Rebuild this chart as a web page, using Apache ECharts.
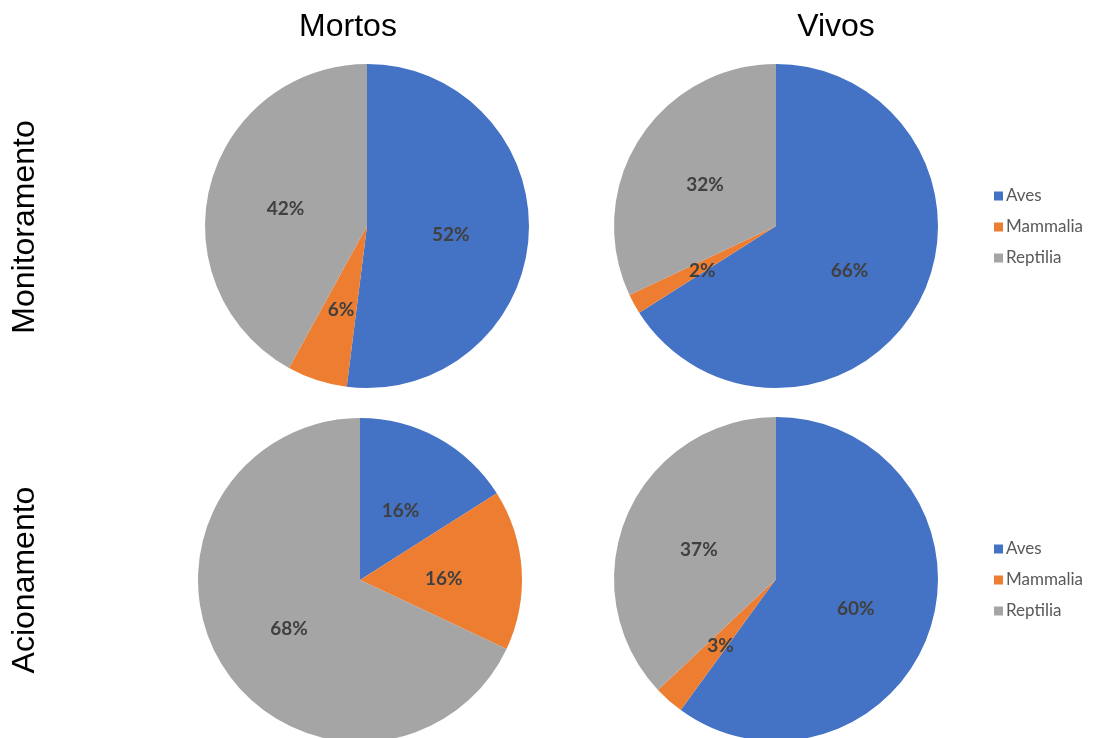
<!DOCTYPE html>
<html>
<head>
<meta charset="utf-8">
<style>
  html, body { margin: 0; padding: 0; background: #ffffff; }
  #chart { width: 1097px; height: 738px; }
</style>
<script src="https://cdn.jsdelivr.net/npm/echarts@6/dist/echarts.min.js"></script>
</head>
<body>
<div id="chart"></div>
<script>
// Taxonomic classes shown in every pie
const classes = ['Aves', 'Mammalia', 'Reptilia'];
const classColors = ['#4472C4', '#ED7D31', '#A5A5A5'];

// Column / row headings
const columnTitles = ['Mortos', 'Vivos'];
const rowTitles = ['Monitoramento', 'Acionamento'];

// Share (%) of each class per panel
const monitoramentoMortos = [52, 6, 42];
const monitoramentoVivos = [66, 2, 32];
const acionamentoMortos = [16, 16, 68];
const acionamentoVivos = [60, 3, 37];

const panels = [
  { values: monitoramentoMortos, center: [367, 226] },
  { values: monitoramentoVivos, center: [776, 226] },
  { values: acionamentoMortos, center: [360, 580] },
  { values: acionamentoVivos, center: [776, 579] }
];

const chart = echarts.init(document.getElementById('chart'));

const series = panels.map(p => ({
  type: 'pie',
  center: p.center,
  radius: 162,
  startAngle: 90,
  clockwise: true,
  avoidLabelOverlap: false,
  silent: true,
  itemStyle: { borderWidth: 0 },
  label: {
    show: true,
    position: 'inside',
    formatter: '{c}%',
    color: '#404040',
    fontFamily: 'Lato',
    fontWeight: 'bold',
    fontSize: 19
  },
  labelLayout: { dy: 4 },
  labelLine: { show: false },
  data: classes.map((name, i) => ({
    name,
    value: p.values[i],
    itemStyle: { color: classColors[i] }
  }))
}));

const legendStyle = {
  orient: 'vertical',
  left: 989,
  icon: 'rect',
  itemWidth: 9,
  itemHeight: 9,
  itemGap: 13,
  selectedMode: false,
  data: classes,
  textStyle: { color: '#595959', fontFamily: 'Lato', fontSize: 17, lineHeight: 18, padding: [0, 0, 0, -2] }
};

const headingFont = { fontFamily: 'Liberation Sans', fontSize: 32, fill: '#000000' };

chart.setOption({
  animation: false,
  legend: [
    Object.assign({ top: 182 }, legendStyle),
    Object.assign({ top: 535 }, legendStyle)
  ],
  graphic: [
    { type: 'text', x: 348, y: 27, style: Object.assign({ text: columnTitles[0], textAlign: 'center', textVerticalAlign: 'middle' }, headingFont) },
    { type: 'text', x: 836, y: 27, style: Object.assign({ text: columnTitles[1], textAlign: 'center', textVerticalAlign: 'middle' }, headingFont) },
    { type: 'text', x: 25, y: 227, rotation: Math.PI / 2, style: Object.assign({ text: rowTitles[0], textAlign: 'center', textVerticalAlign: 'middle' }, headingFont) },
    { type: 'text', x: 25, y: 580, rotation: Math.PI / 2, style: Object.assign({ text: rowTitles[1], textAlign: 'center', textVerticalAlign: 'middle' }, headingFont) }
  ],
  series
});
</script>
</body>
</html>
